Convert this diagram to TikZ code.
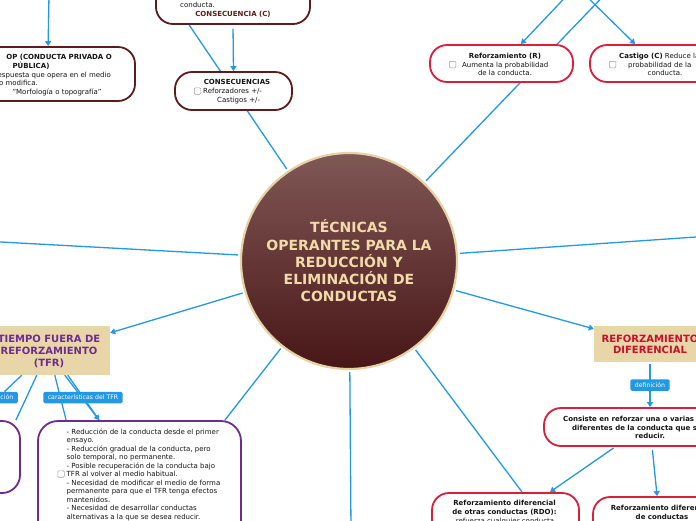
\documentclass[tikz,border=0pt]{standalone}
\usepackage{fontspec}
\setmainfont{DejaVu Sans}
\usetikzlibrary{arrows.meta}
\pgfdeclarelayer{bg}
\pgfsetlayers{bg,main}
\definecolor{lnblue}{RGB}{35,152,228}
\definecolor{brownc}{RGB}{92,28,30}
\definecolor{crim}{RGB}{218,30,60}
\definecolor{purp}{RGB}{108,45,145}
\definecolor{beigeF}{RGB}{232,213,168}
\definecolor{circTop}{RGB}{128,88,86}
\definecolor{circBot}{RGB}{72,22,22}
\definecolor{circBd}{RGB}{232,210,165}
\definecolor{creamT}{RGB}{242,218,170}
\definecolor{rdTxt}{RGB}{200,16,46}
\definecolor{txtc}{RGB}{20,20,20}
\begin{document}
\begin{tikzpicture}[x=1pt,y=-1pt,
  conn/.style={draw=lnblue, line width=1.3pt},
  arr/.style={conn, -{Triangle[length=5pt,width=6pt]}},
  bxbrown/.style={draw=brownc, line width=1.8pt, fill=white, rounded corners=17pt, inner sep=0pt},
  bxred/.style={draw=crim, line width=1.8pt, fill=white, rounded corners=17pt, inner sep=0pt},
  bxpur/.style={draw=purp, line width=1.8pt, fill=white, rounded corners=20pt, inner sep=0pt},
  beigebox/.style={fill=beigeF, inner sep=0pt},
  rt/.style={font=\fontsize{7}{8.5}\selectfont, text=txtc, inner sep=0pt, text height=5pt, text depth=0pt},
  bt/.style={rt, font=\fontsize{7}{8.5}\selectfont\bfseries},
  chk/.style={draw=gray!75, fill=white, line width=0.5pt, minimum size=6.5pt, inner sep=0pt, rounded corners=1pt},
  lbl/.style={fill=lnblue, text=white, font=\fontsize{6.2}{7}\selectfont, rounded corners=1.5pt, inner xsep=4.5pt, inner ysep=0pt, minimum height=11.5pt},
  ttl/.style={font=\fontsize{10}{12}\selectfont\bfseries, align=center, inner sep=0pt}
]
\useasboundingbox (0,0) rectangle (696,520);
\clip (0,0) rectangle (696,520);

% central node
\node[circle, minimum size=216pt, inner sep=0pt, draw=circBd, line width=2.2pt,
  top color=circTop, bottom color=circBot, text=creamT, align=center,
  font=\fontsize{14}{17.25}\selectfont\bfseries] (main) at (349,261)
  {TÉCNICAS\\OPERANTES PARA LA\\REDUCCIÓN Y\\ELIMINACIÓN DE\\CONDUCTAS};

% top-left box
\node[bxbrown, minimum width=210pt, minimum height=54pt] (op) at (30,74) {};
\node[bt, anchor=east] (op1) at (112,57) {OP (CONDUCTA PRIVADA O};
\node[bt] (op2) at (31,65.5) {PÚBLICA)};
\node[rt, anchor=east] (op3) at (111,74.5) {respuesta que opera en el medio};
\node[rt, anchor=east] (op4) at (38,83) {o modifica.};
\node[rt] (op5) at (57,91.5) {"Morfología o topografía"};

% consecuencia (C)
\node[bxbrown, minimum width=154pt, minimum height=54pt] (consC) at (233,-3) {};
\node[rt, anchor=west] (cc1) at (180,5) {conducta.};
\node[bt, text=brownc] (cc2) at (233,14) {CONSECUENCIA (C)};

% consecuencias
\node[bxbrown, minimum width=117pt, minimum height=38pt] (cons) at (233.5,91) {};
\node[bt] (cs1) at (237,81.5) {CONSECUENCIAS};
\node[chk] (cs2) at (197.5,91) {};
\node[rt, anchor=west] (cs3) at (203,91) {Reforzadores +/-};
\node[rt, anchor=west] (cs4) at (217,99.5) {Castigos +/-};

% reforzamiento (R)
\node[bxred, minimum width=143pt, minimum height=37pt] (refR) at (501.5,63.5) {};
\node[bt] (r1) at (505,55.5) {Reforzamiento (R)};
\node[chk] (r2) at (452.5,64.5) {};
\node[rt, anchor=west] (r3) at (462,64.5) {Aumenta la probabilidad};
\node[rt] (r4) at (505,72.5) {de la conducta.};

% castigo (C)
\node[bxred, minimum width=150pt, minimum height=37pt] (cast) at (665,63.5) {};
\node[rt, anchor=west] (k1) at (619,55.5) {\bfseries Castigo (C)\mdseries{} Reduce la};
\node[chk] (k2) at (612.5,64.5) {};
\node[rt, anchor=west] (k3) at (628,64.5) {probabilidad de la};
\node[rt] (k4) at (665,72.5) {conducta.};

% TFR
\node[beigebox, minimum width=122pt, minimum height=49pt] (tfr) at (49,350.5) {};
\node[ttl, text=purp] (tfrT) at (49,351.5) {TIEMPO FUERA DE\\REFORZAMIENTO\\(TFR)};
\node[lbl, anchor=east] (lblL) at (18,397.5) {definición};
\node[lbl] (lblT) at (83,397.5) {características del TFR};
\node[bxpur, minimum width=120pt, minimum height=72pt, rounded corners=18pt] (pboxL) at (-40,457) {};
\node[bxpur, minimum width=203pt, minimum height=139pt] (pbox) at (139.5,490.5) {};
\node[chk] (pchk) at (61,474) {};
\node[anchor=north west, align=left, inner sep=0pt, text=txtc, font=\fontsize{7}{8.5}\selectfont] (ptxt) at (66.5,428.5)
 {- Reducción de la conducta desde el primer\\ensayo.\\- Reducción gradual de la conducta, pero\\solo temporal, no permanente.\\- Posible recuperación de la conducta bajo\\TFR al volver al medio habitual.\\- Necesidad de modificar el medio de forma\\permanente para que el TFR tenga efectos\\mantenidos.\\- Necesidad de desarrollar conductas\\alternativas a la que se desea reducir.};

% reforzamiento diferencial
\node[beigebox, minimum width=112pt, minimum height=36pt] (rd) at (650,344) {};
\node[ttl, text=rdTxt, font=\fontsize{10}{11.5}\selectfont\bfseries] (rdT) at (650,344.5) {REFORZAMIENTO\\DIFERENCIAL};
\node[lbl] (lblD) at (650,385) {definición};
\node[bxred, minimum width=212pt, minimum height=38pt] (rddef) at (650,427) {};
\node[bt, anchor=west] (d1) at (563,418.5) {Consiste en reforzar una o varias conductas};
\node[bt, anchor=west] (d2) at (572,427.5) {diferentes de la conducta que se};
\node[bt] (d3) at (650,436) {reducir.};
\node[bxred, minimum width=147pt, minimum height=66pt] (rdo) at (505.5,526) {};
\node[bt] (o1) at (504.5,503) {Reforzamiento diferencial};
\node[bt] (o2) at (504.5,511.5) {de otras conductas (RDO):};
\node[rt] (o3) at (505,520.5) {refuerza cualquier conducta};
\node[bxred, minimum width=170pt, minimum height=66pt] (rdx) at (678,530) {};
\node[bt] (x1) at (662,508) {Reforzamiento diferencial};
\node[bt] (x2) at (662,516.5) {de conductas};

% free ends
\coordinate (optop) at (49,-5);
\coordinate (parA) at (576,-14);
\coordinate (parB) at (613,-14);
\coordinate (leftE) at (-10,241.4);
\coordinate (rightE) at (706,236.3);
\coordinate (botE) at (351,530);

\begin{pgfonlayer}{bg}
\clip (0,0) rectangle (696,520);
\fill[white] (0,0) rectangle (696,520);
\draw[arr] (optop) -- ([xshift=124pt]op.north west);
\draw[conn, shorten <=2pt] (main) -- ([xshift=34pt]consC.south west);
\draw[arr, shorten <=4pt] (consC.south) -- (cons.north);
\draw[conn, shorten <=2pt] (main) -- (parB);
\draw[arr] (parA) -- (refR.45);
\draw[arr] (parA) -- ([xshift=46pt]cast.north west);
\draw[conn, shorten <=2pt] (main) -- (leftE);
\draw[conn, shorten <=2pt] (main) -- (rightE);
\draw[arr, shorten <=2pt] (main) -- ([yshift=-7pt]tfr.north east);
\draw[conn, shorten <=2pt] (main) -- ([xshift=-17pt]pbox.north east);
\draw[conn, shorten <=2pt] (main) -- (botE);
\draw[conn, shorten <=2pt] (main) -- ([xshift=91pt]rdo.north west);
\draw[arr, shorten <=2pt] (main) -- ([yshift=-3pt]rd.north west);
\draw[arr, shorten <=2pt] (rd) -- (rddef);
\draw[arr, shorten <=2pt] ([xshift=72pt]rddef.south west) -- ([xshift=-30pt]rdo.north east);
\draw[arr, shorten <=3pt] ([xshift=109pt]rddef.south west) -- ([xshift=65pt]rdx.north west);
\draw[conn] ([xshift=34pt]tfr.south west) -- (lblL);
\draw[conn] ([xshift=49pt]tfr.south west) -- ([xshift=-5pt]pboxL.north east);
\draw[conn] ([xshift=67pt]tfr.south west) -- ([xshift=29pt]pbox.north west);
\draw[arr] ([xshift=77pt]tfr.south west) -- ([xshift=62pt]pbox.north west);
\draw[conn] ([xshift=80pt]tfr.south west) -- ([xshift=62pt]pbox.north west);
\end{pgfonlayer}
\end{tikzpicture}
\end{document}
